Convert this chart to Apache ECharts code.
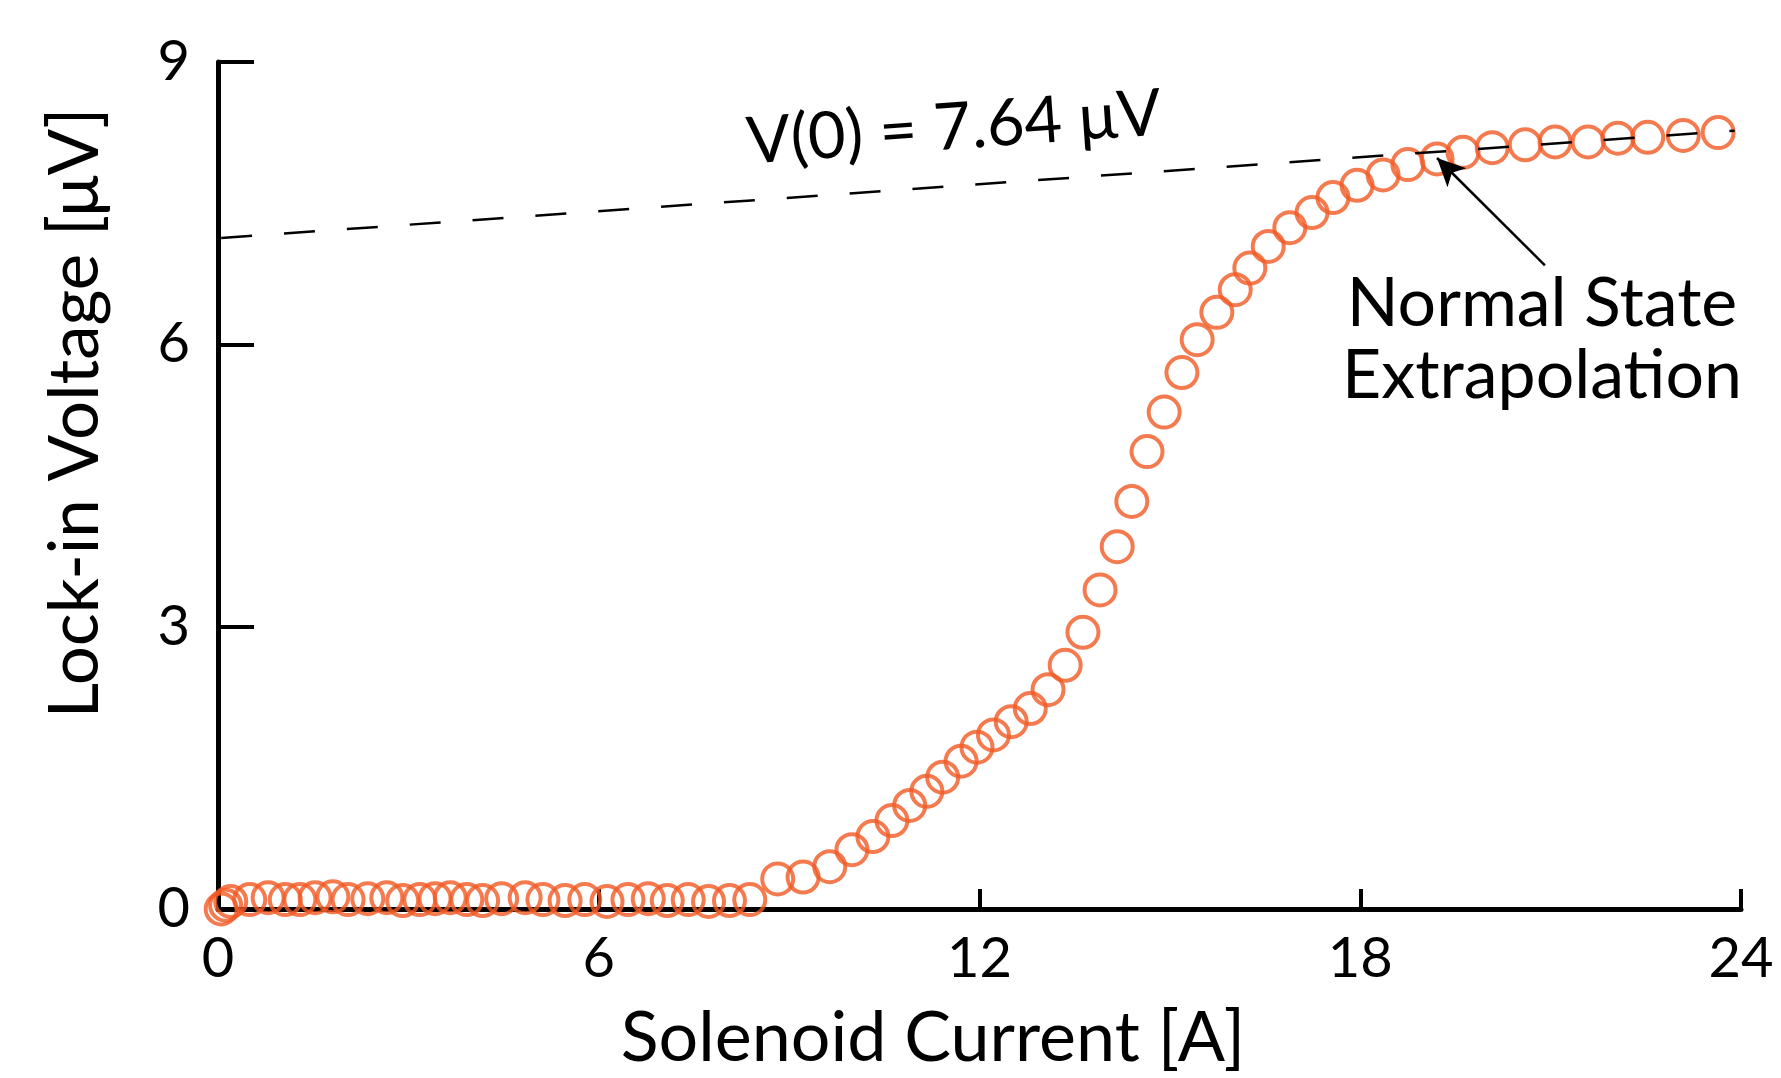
<!DOCTYPE html>
<html>
<head>
<meta charset="utf-8">
<title>Lock-in Voltage vs Solenoid Current</title>
<script src="https://cdn.jsdelivr.net/npm/echarts@6/dist/echarts.min.js"></script>
<style>
  html, body { margin: 0; padding: 0; background: #fff; }
  #chart { width: 1781px; height: 1078px; }
</style>
</head>
<body>
<div id="chart"></div>
<script>
// solenoid current [A]
const current = [
  0.05, 0.12, 0.2, 0.5, 0.79, 1.06, 1.29, 1.53, 1.81, 2.05, 2.36, 2.66, 2.91, 3.18, 3.42, 3.66,
  3.92, 4.17, 4.47, 4.84, 5.12, 5.47, 5.78, 6.13, 6.46, 6.78, 7.08, 7.41, 7.73, 8.06, 8.38,
  8.82, 9.22, 9.64, 9.99, 10.32, 10.62, 10.9, 11.17, 11.42, 11.71, 11.96, 12.22, 12.5, 12.8,
  13.08, 13.35, 13.63, 13.9, 14.17, 14.4, 14.64, 14.91, 15.19, 15.43, 15.74, 16.03, 16.26,
  16.55, 16.89, 17.24, 17.57, 17.95, 18.36, 18.75, 19.21, 19.62, 20.08, 20.6, 21.07, 21.59,
  22.06, 22.53, 23.09, 23.64
];
// lock-in voltage [uV]
const voltage = [
  0.0, 0.04, 0.08, 0.1, 0.12, 0.1, 0.1, 0.12, 0.13, 0.1, 0.11, 0.12, 0.09, 0.1, 0.11, 0.12,
  0.1, 0.09, 0.11, 0.12, 0.1, 0.09, 0.1, 0.08, 0.1, 0.11, 0.09, 0.1, 0.08, 0.09, 0.1,
  0.32, 0.34, 0.45, 0.63, 0.77, 0.94, 1.1, 1.25, 1.4, 1.57, 1.72, 1.85, 1.99, 2.13,
  2.33, 2.59, 2.94, 3.39, 3.85, 4.33, 4.86, 5.28, 5.7, 6.05, 6.34, 6.58, 6.81,
  7.04, 7.24, 7.4, 7.56, 7.69, 7.8, 7.91, 7.97, 8.04, 8.09, 8.12, 8.15, 8.15,
  8.19, 8.2, 8.22, 8.25
];
// normal state extrapolation line (start / end)
const fitX = [0.05, 23.9];
const fitY = [7.13, 8.27];
// arrow: tail -> head
const arrowFrom = [20.91, 6.84];
const arrowTo = [19.21, 7.98];

const xTicks = [0, 6, 12, 18, 24];
const yTicks = [0, 3, 6, 9];

const font = 'Lato, "Open Sans", sans-serif';
const orange = '#F15A24';

const chart = echarts.init(document.getElementById('chart'));

chart.setOption({
  animation: false,
  backgroundColor: '#fff',
  grid: { left: 218, right: 40, top: 62, bottom: 169, containLabel: false },
  xAxis: {
    type: 'value',
    min: xTicks[0],
    max: xTicks[xTicks.length - 1],
    interval: xTicks[1] - xTicks[0],
    axisLine: { lineStyle: { color: '#000', width: 5 } },
    axisTick: { inside: true, length: 20, lineStyle: { color: '#000', width: 4 } },
    axisLabel: { color: '#000', fontSize: 56, fontFamily: font, margin: 22 },
    splitLine: { show: false }
  },
  yAxis: {
    type: 'value',
    min: yTicks[0],
    max: yTicks[yTicks.length - 1],
    interval: yTicks[1] - yTicks[0],
    axisLine: { show: true, lineStyle: { color: '#000', width: 5 } },
    axisTick: { show: true, inside: true, length: 36, lineStyle: { color: '#000', width: 4 } },
    axisLabel: { color: '#000', fontSize: 56, fontFamily: font, margin: 28 },
    splitLine: { show: false }
  },
  series: [
    {
      // dashed normal state fit
      type: 'line',
      data: fitX.map((x, i) => [x, fitY[i]]),
      symbol: 'none',
      lineStyle: { color: '#000', width: 2.5, type: [31, 32] },
      z: 3
    },
    {
      type: 'scatter',
      data: current.map((x, i) => [x, voltage[i]]),
      symbol: 'circle',
      symbolSize: 31,
      itemStyle: { color: 'rgba(0,0,0,0)', borderColor: orange, borderWidth: 4 },
      z: 2,
      markLine: {
        silent: true,
        symbol: ['none', 'arrow'],
        symbolSize: [20, 28],
        label: { show: false },
        lineStyle: { color: '#000', width: 2.5, type: 'solid' },
        data: [[{ coord: arrowFrom }, { coord: arrowTo }]]
      }
    }
  ],
  graphic: [
    {
      type: 'text',
      x: 954, y: 128,
      rotation: 0.07,
      style: {
        text: 'V(0) = 7.64 μV',
        font: '65px ' + font,
        fill: '#000',
        textAlign: 'center',
        textVerticalAlign: 'middle'
      }
    },
    {
      type: 'text',
      x: 1542, y: 340,
      style: {
        text: 'Normal State\nExtrapolation',
        font: '68px ' + font,
        lineHeight: 72,
        fill: '#000',
        textAlign: 'center',
        textVerticalAlign: 'middle'
      }
    },
    {
      type: 'text',
      x: 933, y: 1038,
      style: {
        text: 'Solenoid Current [A]',
        font: '70px ' + font,
        fill: '#000',
        textAlign: 'center',
        textVerticalAlign: 'middle'
      }
    },
    {
      type: 'text',
      x: 76, y: 413,
      rotation: Math.PI / 2,
      style: {
        text: 'Lock-in Voltage [μV]',
        font: '69px ' + font,
        fill: '#000',
        textAlign: 'center',
        textVerticalAlign: 'middle'
      }
    }
  ]
});
</script>
</body>
</html>
